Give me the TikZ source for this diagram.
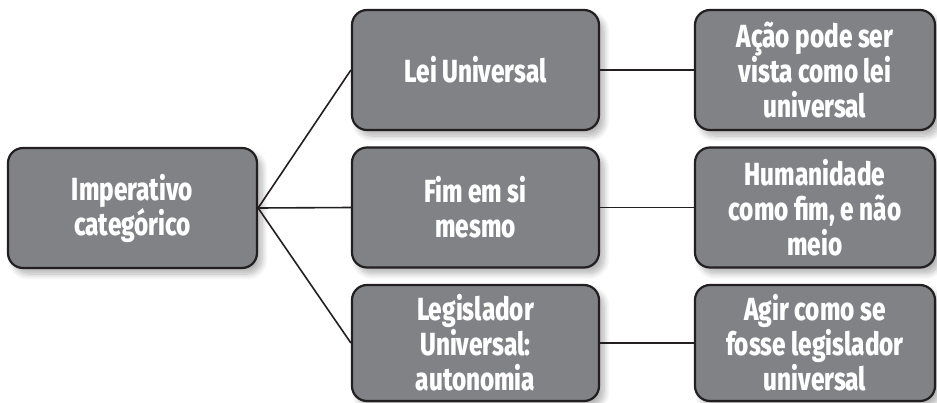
\documentclass[tikz,border=0pt]{standalone}
\usepackage{fontspec}
\setmainfont{Fira Sans}[FakeStretch=0.76, BoldFont={Fira Sans ExtraBold}]
\usetikzlibrary{shadows.blur}
\definecolor{boxgray}{HTML}{808285}
\definecolor{edgecol}{HTML}{231F20}
\begin{document}
\begin{tikzpicture}[x=1pt,y=-1pt,
  box/.style={draw=edgecol, line width=2.2pt, fill=boxgray, rounded corners=15pt,
    minimum height=120pt, text=white, inner sep=0pt,
    font=\bfseries\fontsize{32}{35}\selectfont, align=center,
    blur shadow={shadow xshift=5pt, shadow yshift=-6pt, shadow blur steps=10, shadow opacity=30, shadow blur radius=6pt}},
  midbox/.style={box, minimum width=247pt},
  rightbox/.style={box, minimum width=240pt},
  link/.style={draw=edgecol, line width=1.6pt}]
\useasboundingbox (0,0) rectangle (937,402);
\node[box, minimum width=249pt] (imp) at (132.5,208) {Imperativo\\categórico};
\node[midbox] (lei) at (475.5,70) {Lei Universal};
\node[midbox] (fim) at (475.5,207.5) {Fim em si\\mesmo};
\node[midbox, minimum height=116pt] (leg) at (475.5,343) {Legislador\\Universal:\\autonomia};
\node[rightbox] (acao) at (815,70) {Ação pode ser\\vista como lei\\universal};
\node[rightbox] (hum) at (815,207.5) {Humanidade\\como fim, e não\\meio};
\node[rightbox, minimum height=116pt] (agir) at (815,343) {Agir como se\\fosse legislador\\universal};
\draw[link] (imp.east) -- (lei.west);
\draw[link] (imp.east) -- (fim.west);
\draw[link] (imp.east) -- (leg.west);
\draw[link] (lei.east) -- (acao.west);
\draw[link] (fim.east) -- (hum.west);
\draw[link] (leg.east) -- (agir.west);
\end{tikzpicture}
\end{document}
